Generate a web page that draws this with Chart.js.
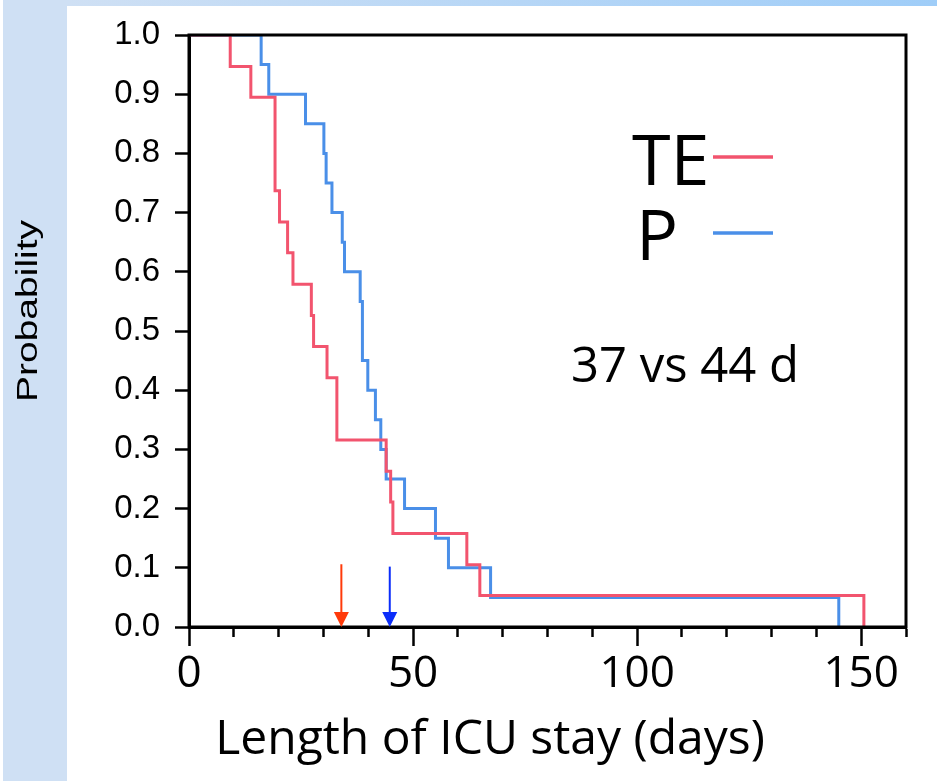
<!DOCTYPE html>
<html lang="en">
<head>
<meta charset="UTF-8" />
<title>Length of ICU stay</title>
<script src="https://cdn.jsdelivr.net/npm/chart.js"></script>
<style>
  html, body { margin: 0; padding: 0; background: #fff; }
  #kmCanvas { display: block; }
</style>
</head>
<body>
<canvas id="kmCanvas" width="937" height="781"></canvas>
<script>
// Kaplan-Meier steps (day, probability after the drop)
const teDays = [0, 9.2, 13.8, 19.2, 20.2, 22, 23.2, 27.3, 27.8, 30.8, 33, 44, 45, 45.5, 62, 64.9, 150.6];
const teSurv = [1, 0.947, 0.895, 0.737, 0.684, 0.632, 0.579, 0.526, 0.474, 0.421, 0.316, 0.263, 0.211, 0.158, 0.105, 0.053, 0];
const pDays = [0, 16.1, 17.8, 26, 30.1, 30.6, 31.9, 34.2, 34.7, 38.2, 38.7, 39.9, 41.6, 42.8, 44, 48.1, 55, 57.9, 67.3, 145];
const pSurv = [1, 0.95, 0.9, 0.85, 0.8, 0.75, 0.7, 0.65, 0.6, 0.55, 0.45, 0.4, 0.35, 0.3, 0.25, 0.2, 0.15, 0.1, 0.05, 0];

// median arrows
const arrowDays = [34, 44.8];
const arrowTops = [0.106, 0.102];
const arrowColors = ["#ff3a0a", "#0b2dfa"];

const seriesNames = ["TE", "P"];
const seriesColors = ["#f2546e", "#4a8fe8"];
const noteText = "37 vs 44 d";
const xTitle = "Length of ICU stay (days)";
const yTitle = "Probability";

function toPoints(days, surv) {
    return days.map((d, i) => ({ x: d, y: surv[i] }));
}

const backdrop = {
    id: "backdrop",
    beforeDraw(chart) {
        const c = chart.ctx;
        c.save();
        c.fillStyle = "#ffffff";
        c.fillRect(0, 0, chart.width, chart.height);
        c.fillStyle = "#cfe0f4";
        c.fillRect(3, 0, 64, chart.height);
        const g = c.createLinearGradient(67, 0, chart.width, 0);
        g.addColorStop(0, "#cfe0f4");
        g.addColorStop(1, "#9fcdf8");
        c.fillStyle = g;
        c.fillRect(67, 0, chart.width - 67, 6);
        c.restore();
    }
};

const extras = {
    id: "extras",
    afterDatasetsDraw(chart) {
        const c = chart.ctx;
        const a = chart.chartArea;
        const xs = chart.scales.x;
        const ys = chart.scales.y;
        c.save();

        // box round the plot
        c.strokeStyle = "#000";
        c.lineWidth = 3;
        c.strokeRect(a.left, a.top, a.right - a.left, a.bottom - a.top);

        // arrows
        arrowDays.forEach((d, i) => {
            const x = xs.getPixelForValue(d);
            const y0 = ys.getPixelForValue(arrowTops[i]);
            const y1 = ys.getPixelForValue(0);
            c.strokeStyle = arrowColors[i];
            c.fillStyle = arrowColors[i];
            c.lineWidth = 2;
            c.beginPath();
            c.moveTo(x, y0);
            c.lineTo(x, y1 - 12);
            c.stroke();
            c.beginPath();
            c.moveTo(x - 7.5, y1 - 15);
            c.lineTo(x + 7.5, y1 - 15);
            c.lineTo(x, y1);
            c.closePath();
            c.fill();
        });

        // legend by hand
        c.fillStyle = "#000";
        c.textBaseline = "alphabetic";
        c.textAlign = "left";
        c.font = "70px 'Open Sans'";
        c.fillText(seriesNames[0], 632, 185);
        c.fillText(seriesNames[1], 636, 260);
        c.lineWidth = 3.5;
        c.strokeStyle = seriesColors[0];
        c.beginPath(); c.moveTo(713, 157); c.lineTo(773, 157); c.stroke();
        c.strokeStyle = seriesColors[1];
        c.beginPath(); c.moveTo(713, 233); c.lineTo(773, 233); c.stroke();

        c.font = "49px 'Open Sans'";
        c.fillText(noteText, 571, 382);

        // axis titles
        c.textAlign = "center";
        c.font = "48px 'Open Sans'";
        c.fillText(xTitle, 490, 754);
        c.save();
        c.translate(37, 311);
        c.rotate(-Math.PI / 2);
        c.scale(1.3, 1);
        c.font = "30px 'Liberation Sans'";
        c.fillText(yTitle, 0, 0);
        c.restore();

        c.restore();
    }
};

const ctx = document.getElementById("kmCanvas").getContext("2d");
new Chart(ctx, {
    type: "scatter",
    data: {
        datasets: [
            {
                label: seriesNames[0],
                data: toPoints(teDays, teSurv),
                showLine: true,
                stepped: true,
                borderColor: seriesColors[0],
                borderWidth: 3,
                pointRadius: 0,
                fill: false
            },
            {
                label: seriesNames[1],
                data: toPoints(pDays, pSurv),
                showLine: true,
                stepped: true,
                borderColor: seriesColors[1],
                borderWidth: 3,
                pointRadius: 0,
                fill: false
            }
        ]
    },
    options: {
        responsive: false,
        animation: false,
        layout: { padding: { top: 35, right: 31, left: 0, bottom: 0 } },
        plugins: { legend: { display: false }, tooltip: { enabled: false } },
        scales: {
            x: {
                type: "linear",
                min: 0,
                max: 160,
                afterFit: (s) => { s.height = 154; },
                ticks: {
                    stepSize: 10,
                    autoSkip: false,
                    maxRotation: 0,
                    color: "#000",
                    padding: 2,
                    font: { family: "Open Sans", size: 44 },
                    callback: (v) => (v % 50 === 0 ? v : "")
                },
                grid: {
                    drawOnChartArea: false,
                    tickLength: 19,
                    tickWidth: 2.5,
                    tickColor: "#000",
                    tickBorderDash: (c) => (c.tick && c.tick.value % 50 === 0 ? [] : [8, 40])
                },
                border: { display: true, color: "#000", width: 3 }
            },
            y: {
                min: 0,
                max: 1,
                afterFit: (s) => { s.width = 189; },
                ticks: {
                    stepSize: 0.1,
                    color: "#000",
                    padding: 15,
                    font: { family: "Liberation Sans", size: 33 },
                    callback: (v) => v.toFixed(1)
                },
                grid: {
                    drawOnChartArea: false,
                    tickLength: 14,
                    tickWidth: 2.5,
                    tickColor: "#000"
                },
                border: { display: true, color: "#000", width: 3 }
            }
        }
    },
    plugins: [backdrop, extras]
});
</script>
</body>
</html>
